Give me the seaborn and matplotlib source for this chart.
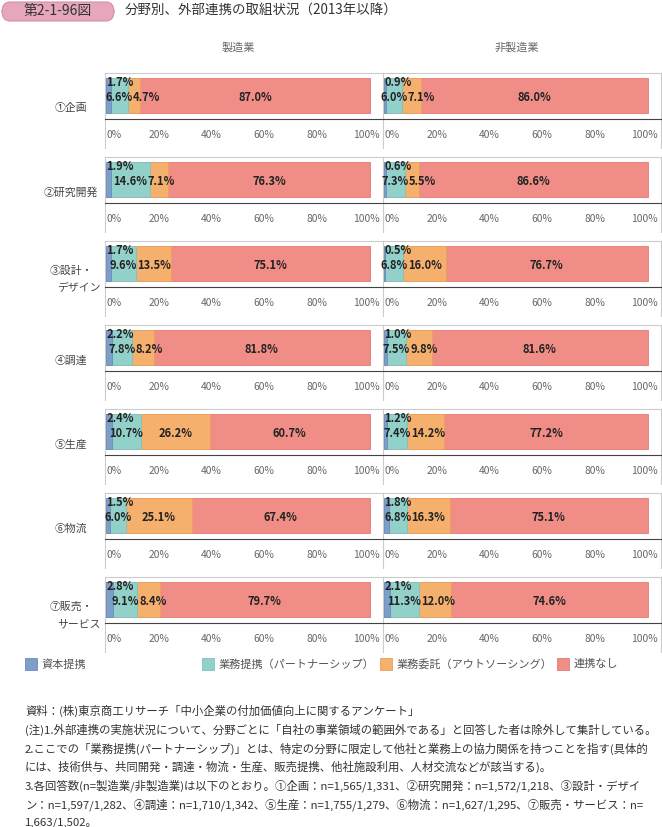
import numpy as np
import pandas as pd
import matplotlib
matplotlib.use('Agg')
import matplotlib.pyplot as plt
import seaborn as sns
from matplotlib.patches import FancyBboxPatch, Rectangle

sns.set_theme(style='white')
plt.rcParams['font.family'] = ['Noto Sans CJK JP', 'DejaVu Sans']

# Data (%)
categories = ['①企画', '②研究開発', '③設計・\nデザイン', '④調達', '⑤生産', '⑥物流', '⑦販売・\nサービス']
series_names = ['資本提携', '業務提携（パートナーシップ）', '業務委託（アウトソーシング）', '連携なし']

mfg_capital = [1.7, 1.9, 1.7, 2.2, 2.4, 1.5, 2.8]
mfg_partner = [6.6, 14.6, 9.6, 7.8, 10.7, 6.0, 9.1]
mfg_outsource = [4.7, 7.1, 13.5, 8.2, 26.2, 25.1, 8.4]
mfg_none = [87.0, 76.3, 75.1, 81.8, 60.7, 67.4, 79.7]

non_capital = [0.9, 0.6, 0.5, 1.0, 1.2, 1.8, 2.1]
non_partner = [6.0, 7.3, 6.8, 7.5, 7.4, 6.8, 11.3]
non_outsource = [7.1, 5.5, 16.0, 9.8, 14.2, 16.3, 12.0]
non_none = [86.0, 86.6, 76.7, 81.6, 77.2, 75.1, 74.6]

columns = ['製造業', '非製造業']
tick_vals = [0, 20, 40, 60, 80, 100]

COLORS = ['#7c9ec8', '#92d1ca', '#f5b06e', '#ef8d86']
EDGES = ['#6a8cb8', '#7fc2ba', '#eaa05c', '#e57a73']

W, H = 662, 827
fig = plt.figure(figsize=(W / 100, H / 100), dpi=100)


def fx(x):
    return x / W


def fy(y):
    return 1 - y / H


# header box and title
box = FancyBboxPatch((fx(2), fy(21)), fx(112), 19 / H,
                     boxstyle='round,pad=0,rounding_size=0.012',
                     transform=fig.transFigure, facecolor='#e6a7bd',
                     edgecolor='#d48fa6', linewidth=0.8)
fig.add_artist(box)
fig.text(fx(58), fy(11), '第2-1-96図', ha='center', va='center', fontsize=10, color='#333333')
fig.text(fx(125), fy(11), '分野別、外部連携の取組状況（2013年以降）', ha='left', va='center',
         fontsize=9.7, color='#333333')

fig.text(fx(238), fy(48), columns[0], ha='center', va='center', fontsize=8, color='#666666')
fig.text(fx(517), fy(48), columns[1], ha='center', va='center', fontsize=8, color='#666666')

data = {
    0: [mfg_capital, mfg_partner, mfg_outsource, mfg_none],
    1: [non_capital, non_partner, non_outsource, non_none],
}

col_left = [105, 383]
col_width = 278
pitch = 84
panel_top0 = 73
panel_h = 75
spine_y = 0.537

renderer = fig.canvas.get_renderer()

for r, cat in enumerate(categories):
    top = panel_top0 + pitch * r
    for c in range(2):
        ax = fig.add_axes([fx(col_left[c]), fy(top + panel_h), col_width / W, panel_h / H])
        vals = [data[c][k][r] for k in range(4)]
        cum = np.cumsum(vals)
        df = pd.DataFrame({'cat': [cat] * 4, 'cum': cum, 'series': series_names})
        # stacked bars: draw totals from the back to the front
        for k in range(3, -1, -1):
            sns.barplot(data=df.iloc[[k]], x='cum', y='cat', orient='h', color=COLORS[k],
                        saturation=1, width=0.8, edgecolor=EDGES[k], linewidth=0.6, ax=ax)
        ax.set_xlim(-0.4, 105)
        ax.set_ylim(1.2, -0.514)
        ax.set_xlabel('')
        ax.set_ylabel('')
        ax.set_yticks([])
        ax.set_xticks(tick_vals)
        ax.set_xticklabels([])
        ax.tick_params(axis='x', direction='out', length=3, width=0.8, color='#444444')
        # tick labels drawn by hand so the 100% / 0% pair at the column join does not collide
        for t in tick_vals:
            dx = -2.2 if t == 100 else 0
            ax.annotate(f'{t}%', xy=(t, spine_y), xytext=(dx, -11.5), textcoords='offset points',
                        ha='left' if t == 0 else 'center', va='center', fontsize=7.4,
                        color='#666666', annotation_clip=False)
        ax.spines['bottom'].set_position(('data', spine_y))
        ax.spines['bottom'].set_color('#444444')
        ax.spines['bottom'].set_linewidth(0.8)
        for s in ['top', 'left', 'right']:
            ax.spines[s].set_color('#cccccc')
            ax.spines[s].set_linewidth(0.8)
        ax.spines['right'].set_visible(c == 1)
        ax.grid(False)
        ax.set_facecolor('none')

        # value labels
        ax.text(0.2, -0.3, f'{vals[0]:.1f}%', ha='left', va='center', fontsize=8,
                fontweight='bold', color='#222222')
        prev_end = None
        starts = np.concatenate([[0], cum[:-1]])
        inv = ax.transData.inverted()
        for k in range(1, 4):
            cx = starts[k] + vals[k] / 2
            t = ax.text(cx, 0.05, f'{vals[k]:.1f}%', ha='center', va='center', fontsize=8,
                        fontweight='bold', color='#222222')
            bb = t.get_window_extent(renderer)
            x0 = inv.transform((bb.x0, 0))[0]
            x1 = inv.transform((bb.x1, 0))[0]
            if prev_end is not None and x0 < prev_end:
                shift = prev_end - x0
                t.set_x(cx + shift)
                x1 += shift
            prev_end = x1

    # row label
    bar_c = 95.5 + pitch * r
    lines = cat.split('\n')
    if len(lines) == 1:
        fig.text(fx(71), fy(bar_c + 13), lines[0], ha='center', va='center', fontsize=7.8, color='#444444')
    else:
        fig.text(fx(71), fy(bar_c + 7), lines[0], ha='center', va='center', fontsize=7.8, color='#444444')
        fig.text(fx(79), fy(bar_c + 25), lines[1], ha='center', va='center', fontsize=7.8, color='#444444')

# legend
leg_x = [25, 202, 380, 557]
for k, name in enumerate(series_names):
    fig.add_artist(Rectangle((fx(leg_x[k]), fy(670)), 12 / W, 12 / H, transform=fig.transFigure,
                             facecolor=COLORS[k], edgecolor=EDGES[k], linewidth=0.6))
    fig.text(fx(leg_x[k] + 17), fy(664), name, ha='left', va='center', fontsize=8, color='#555555')

notes = [
    '資料：(株)東京商工リサーチ「中小企業の付加価値向上に関するアンケート」',
    '(注)1.外部連携の実施状況について、分野ごとに「自社の事業領域の範囲外である」と回答した者は除外して集計している。',
    '2.ここでの「業務提携(パートナーシップ)」とは、特定の分野に限定して他社と業務上の協力関係を持つことを指す(具体的',
    'には、技術供与、共同開発・調達・物流・生産、販売提携、他社施設利用、人材交流などが該当する)。',
    '3.各回答数(n=製造業/非製造業)は以下のとおり。①企画：n=1,565/1,331、②研究開発：n=1,572/1,218、③設計・デザイ',
    'ン：n=1,597/1,282、④調達：n=1,710/1,342、⑤生産：n=1,755/1,279、⑥物流：n=1,627/1,295、⑦販売・サービス：n=',
    '1,663/1,502。',
]
for i, line in enumerate(notes):
    fig.text(fx(25), fy(711 + 18.7 * i), line, ha='left', va='center', fontsize=8.2, color='#333333')

fig.savefig('out.png', dpi=100)
